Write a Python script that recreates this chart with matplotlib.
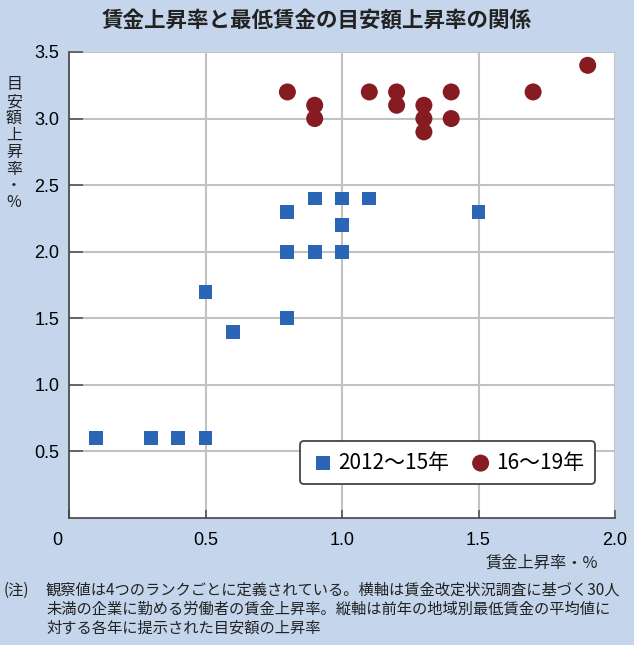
import matplotlib.pyplot as plt
import matplotlib.transforms as mtransforms

plt.rcParams['font.family'] = ['Noto Sans CJK JP', 'DejaVu Sans']

# データ (2012～15年: 四角, 16～19年: 丸)
x_1215 = [0.1, 0.3, 0.4, 0.5, 0.5, 0.6, 0.8, 0.8, 0.8, 0.9, 0.9, 1.0, 1.0, 1.0, 1.1, 1.5]
y_1215 = [0.6, 0.6, 0.6, 0.6, 1.7, 1.4, 1.5, 2.0, 2.3, 2.0, 2.4, 2.0, 2.2, 2.4, 2.4, 2.3]
x_1619 = [0.8, 0.9, 0.9, 1.1, 1.2, 1.2, 1.3, 1.3, 1.3, 1.4, 1.4, 1.7, 1.9]
y_1619 = [3.2, 3.1, 3.0, 3.2, 3.2, 3.1, 3.1, 3.0, 2.9, 3.2, 3.0, 3.2, 3.4]

x_ticks = [0, 0.5, 1.0, 1.5, 2.0]
x_labels = ['0', '0.5', '1.0', '1.5', '2.0']
y_ticks = [0.5, 1.0, 1.5, 2.0, 2.5, 3.0, 3.5]
y_labels = ['0.5', '1.0', '1.5', '2.0', '2.5', '3.0', '3.5']

bg = '#c4d5ec'
blue = '#2a66b5'
red = '#861c22'

fig = plt.figure(figsize=(6.34, 6.45), dpi=100)
fig.patch.set_facecolor(bg)
ax = fig.add_axes([69 / 634, 1 - 518 / 645, 546 / 634, 466 / 645])
ax.set_facecolor('white')

ax.scatter(x_1215, y_1215, marker='s', s=100, color=blue, edgecolors='none', zorder=3,
           label='2012～15年')
ax.scatter(x_1619, y_1619, marker='o', s=150, color=red, edgecolors='none', zorder=3,
           label='16～19年')

ax.set_xlim(0, 2.0)
ax.set_ylim(0, 3.5)
ax.set_xticks(x_ticks)
ax.set_xticklabels(x_labels)
ax.set_yticks(y_ticks)
ax.set_yticklabels(y_labels)
ax.grid(True, color='#c2c2c2', linewidth=1.5, zorder=0)
ax.tick_params(axis='y', direction='in', length=10, width=1.2, color='#555555', labelsize=13, pad=7)
ax.tick_params(axis='x', direction='in', length=6, width=1.2, color='#555555', labelsize=13, pad=10)
for lab in ax.get_xticklabels() + ax.get_yticklabels():
    lab.set_family(['Liberation Sans Narrow', 'Liberation Sans', 'DejaVu Sans'])
# 「0」は軸の少し左に置かれている
zero = ax.get_xticklabels()[0]
zero.set_transform(zero.get_transform() + mtransforms.ScaledTranslation(-12 / 100, 0, fig.dpi_scale_trans))
for side in ['top', 'right']:
    ax.spines[side].set_visible(False)
for side in ['left', 'bottom']:
    ax.spines[side].set_color('#444444')
    ax.spines[side].set_linewidth(1.2)

leg = ax.legend(loc='lower right', bbox_to_anchor=(0.963, 0.073), ncol=2, fontsize=15,
                frameon=True, fancybox=True, edgecolor='#444444', framealpha=1,
                handletextpad=0.15, columnspacing=0.9, borderpad=0.5, handlelength=1.2,
                borderaxespad=0, markerscale=1.0)
leg.get_frame().set_linewidth(1.3)

fig.text(0.5, 1 - 20 / 645, '賃金上昇率と最低賃金の目安額上昇率の関係', ha='center', va='center',
         fontsize=15.5, fontweight='bold', color='#222222')

ylab = '目安額上昇率・%'
for i, ch in enumerate(ylab):
    fig.text(14 / 634, 1 - (85 + i * 16.8) / 645, ch, ha='center', va='center', fontsize=11.5,
             color='#222222')

fig.text(598 / 634, 1 - 563 / 645, '賃金上昇率・%', ha='right', va='center', fontsize=11.7,
         color='#222222')

fig.text(4 / 634, 1 - 590 / 645, '(注)', ha='left', va='center', fontsize=11, color='#222222')
note = ['観察値は4つのランクごとに定義されている。横軸は賃金改定状況調査に基づく30人',
        '未満の企業に勤める労働者の賃金上昇率。縦軸は前年の地域別最低賃金の平均値に',
        '対する各年に提示された目安額の上昇率']
for i, line in enumerate(note):
    fig.text(46 / 634, 1 - (590 + i * 19) / 645, line, ha='left', va='center', fontsize=11,
             color='#222222')

fig.savefig('out.png', dpi=100, facecolor=bg)
